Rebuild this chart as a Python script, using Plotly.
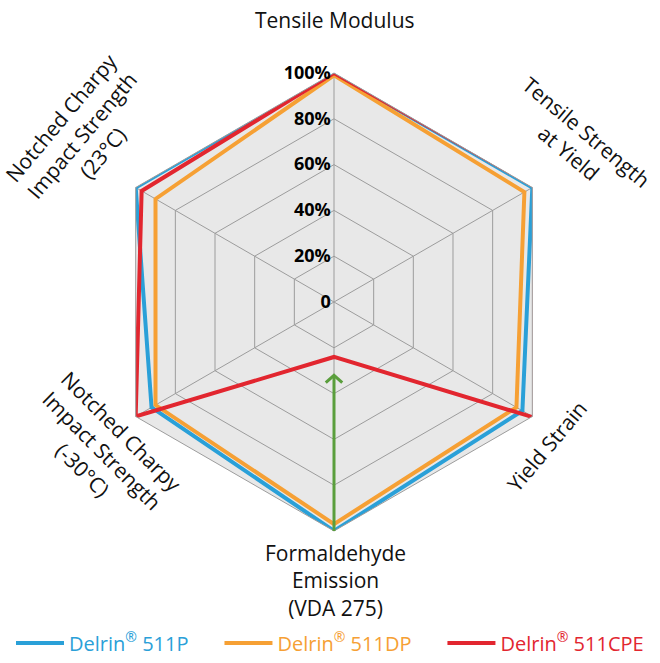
import math
import plotly.graph_objects as go

# ---------------- data ----------------
categories = ["Tensile Modulus", "Tensile Strength at Yield", "Yield Strain",
              "Formaldehyde Emission (VDA 275)",
              "Notched Charpy Impact Strength (-30°C)",
              "Notched Charpy Impact Strength (23°C)"]
delrin_511p = [100, 100, 95, 100, 92, 100]
delrin_511dp = [99, 96, 92, 97, 90, 90]
delrin_511cpe = [100, 101, 101, 24, 100, 97]
series_names = ["Delrin<sup>®</sup> 511P", "Delrin<sup>®</sup> 511DP", "Delrin<sup>®</sup> 511CPE"]
arrow_start = 100   # improvement arrow on Formaldehyde axis
arrow_tip = 32
radial_tickvals = [0, 20, 40, 60, 80, 100]
radial_ticktext = ["0", "20%", "40%", "60%", "80%", "100%"]

# ---------------- style ----------------
colors = ["#2aa0d8", "#f6a034", "#e2262f"]
green = "#5a9e3c"
FONT = "Open Sans"
W, H = 660, 663
cx, cy, R = 334, 302, 229
dom_x = [(cx - R) / W, (cx + R) / W]
dom_y = [1 - (cy + R) / H, 1 - (cy - R) / H]

fig = go.Figure()
for i, (vals, name, col) in enumerate(zip([delrin_511p, delrin_511dp, delrin_511cpe], series_names, colors)):
    pad = "&nbsp;" * 5 if i < 2 else ""
    fig.add_trace(go.Scatterpolar(
        r=vals + vals[:1], theta=categories + categories[:1],
        mode="lines", line=dict(color=col, width=4),
        name=f"<span style='color:{col}'>{name}</span>{pad}",
        subplot="polar"))

# arrow on an overlaid numeric polar subplot
ang = 180  # direction of Formaldehyde axis (index 3 * 60 deg)
fig.add_trace(go.Scatterpolar(r=[arrow_start, arrow_tip], theta=[ang, ang], mode="lines",
                              line=dict(color=green, width=3), showlegend=False,
                              subplot="polar2"))
h, w = 3.2, 3.6
ra = math.hypot(arrow_tip + h, w)
da = math.degrees(math.atan2(w, arrow_tip + h))
fig.add_trace(go.Scatterpolar(r=[ra, arrow_tip, ra], theta=[ang - da, ang, ang + da],
                              mode="lines", line=dict(color=green, width=3),
                              showlegend=False, subplot="polar2"))

grid = "#9c9c9c"
fig.update_layout(
    width=W, height=H, margin=dict(l=0, r=0, t=0, b=0, autoexpand=False),
    paper_bgcolor="white", plot_bgcolor="white",
    font=dict(family=FONT, color="#111"),
    polar=dict(
        domain=dict(x=dom_x, y=dom_y),
        bgcolor="#e8e8e8", gridshape="linear",
        angularaxis=dict(direction="clockwise", rotation=90, showticklabels=False,
                         ticks="", gridcolor=grid, gridwidth=1, linecolor=grid,
                         linewidth=1, showline=True),
        radialaxis=dict(range=[0, 100], angle=90, side="counterclockwise", tickangle=90,
                        tickvals=radial_tickvals, ticktext=radial_ticktext,
                        tickfont=dict(size=18, color="black", family=FONT, weight="bold"),
                        showline=False, ticks="", gridcolor=grid, gridwidth=1),
    ),
    polar2=dict(
        domain=dict(x=dom_x, y=dom_y), bgcolor="rgba(0,0,0,0)",
        angularaxis=dict(direction="clockwise", rotation=90, visible=False,
                         showgrid=False, showline=False),
        radialaxis=dict(range=[0, 100], visible=False, showgrid=False, showline=False),
    ),
    legend=dict(orientation="h", x=0.5, xanchor="center", y=(H - 643) / H,
                yanchor="middle", font=dict(size=20, family=FONT), itemwidth=48,
                tracegroupgap=0),
    showlegend=True,
)

labels = [
    ("Tensile Modulus", 335, 20, 0),
    ("Tensile Strength<br>at Yield", 578, 142, 40),
    ("Yield Strain", 547, 446, -50),
    ("Formaldehyde<br>Emission<br>(VDA 275)", 335, 580, 0),
    ("Notched Charpy<br>Impact Strength<br>(-30°C)", 102, 450, 45),
    ("Notched Charpy<br>Impact Strength<br>(23°C)", 82, 136, -50),
]
for txt, px, py, a in labels:
    fig.add_annotation(text=txt, x=px / W, y=1 - py / H, xref="paper", yref="paper",
                       xanchor="center", yanchor="middle", showarrow=False,
                       textangle=a, font=dict(size=21, family=FONT, color="#111"))

fig.write_html("out.html", config={"displayModeBar": False},
               post_script="document.body.style.margin='0';document.body.style.padding='0';")
